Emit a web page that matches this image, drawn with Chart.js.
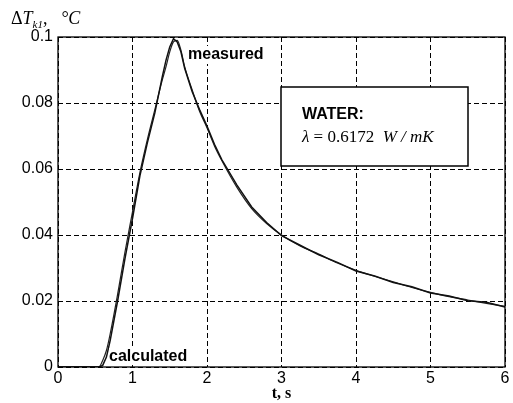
<!DOCTYPE html>
<html><head><meta charset="utf-8">
<script src="https://cdn.jsdelivr.net/npm/chart.js@4"></script>
<style>html,body{margin:0;padding:0;background:#fff}</style>
</head><body>
<canvas id="c" width="513" height="403"></canvas>
<script>
const timeS = [0, 0.55, 0.6, 0.65, 0.7, 0.8, 0.9, 1.0, 1.1, 1.2, 1.3, 1.4, 1.45, 1.5, 1.55, 1.6, 1.65, 1.7, 1.8, 1.9, 2.0, 2.1, 2.2, 2.4, 2.6, 2.8, 3.0, 3.25, 3.5, 3.75, 4.0, 4.25, 4.5, 4.75, 5.0, 5.25, 5.5, 5.75, 6.0];
const calculated = [0, 0, 0.002, 0.005, 0.010, 0.022, 0.035, 0.047, 0.059, 0.069, 0.078, 0.087, 0.091, 0.0955, 0.0985, 0.099, 0.096, 0.091, 0.084, 0.0775, 0.0725, 0.067, 0.0625, 0.0545, 0.048, 0.0435, 0.040, 0.0367, 0.0342, 0.0315, 0.0293, 0.0275, 0.0258, 0.0241, 0.0226, 0.0213, 0.0203, 0.0193, 0.0184];
const measured = [0, 0, 0.0005, 0.003, 0.008, 0.020, 0.033, 0.045, 0.058, 0.068, 0.077, 0.088, 0.093, 0.097, 0.0995, 0.0985, 0.0955, 0.0905, 0.0835, 0.078, 0.073, 0.0675, 0.0628, 0.0552, 0.0485, 0.0438, 0.0398, 0.0369, 0.0340, 0.0317, 0.0291, 0.0276, 0.0256, 0.0243, 0.0224, 0.0215, 0.0201, 0.0196, 0.0182];
const seriesNames = ['measured', 'calculated'];
const xTickLabels = ['0', '1', '2', '3', '4', '5', '6'];
const yTickLabels = ['0', '0.02', '0.04', '0.06', '0.08', '0.1'];

const toPts = (vals) => timeS.map((t, i) => ({x: t, y: vals[i]}));

const annot = {
  id: 'annot',
  afterDraw(chart) {
    const ctx = chart.ctx, a = chart.chartArea;
    ctx.save();
    // frame
    ctx.strokeStyle = '#000'; ctx.lineWidth = 1.3; ctx.setLineDash([]);
    ctx.strokeRect(a.left, a.top, a.right - a.left, a.bottom - a.top);
    // series labels
    ctx.font = 'bold 16px "Liberation Sans", Arial, sans-serif';
    ctx.textBaseline = 'middle'; ctx.textAlign = 'left';
    let w = ctx.measureText(seriesNames[0]).width;
    ctx.fillStyle = '#fff'; ctx.fillRect(187, 46, w + 3, 18);
    ctx.fillStyle = '#000'; ctx.fillText(seriesNames[0], 188, 55);
    w = ctx.measureText(seriesNames[1]).width;
    ctx.fillStyle = '#fff'; ctx.fillRect(109, 348, w + 3, 17);
    ctx.fillStyle = '#000'; ctx.fillText(seriesNames[1], 109, 357);
    // info box
    ctx.fillStyle = '#fff'; ctx.fillRect(281, 87, 187, 79);
    ctx.lineWidth = 1.5; ctx.strokeRect(281, 87, 187, 79);
    ctx.fillStyle = '#000';
    ctx.font = 'bold 16px "Liberation Sans", Arial, sans-serif';
    ctx.fillText('WATER:', 302, 115);
    let x = 302; const y2 = 138;
    const seg = (txt, font) => { ctx.font = font; ctx.fillText(txt, x, y2); x += ctx.measureText(txt).width; };
    seg('\u03BB', 'italic 17px "Liberation Serif", serif');
    seg(' = 0.6172  ', '17px "Liberation Serif", serif');
    seg('W / mK', 'italic 17px "Liberation Serif", serif');
    // y title
    ctx.textBaseline = 'alphabetic';
    x = 11; const yb = 24;
    const seg2 = (txt, font, dy) => { ctx.font = font; ctx.fillText(txt, x, yb + (dy || 0)); x += ctx.measureText(txt).width; };
    seg2('\u0394', '18px "Liberation Serif", serif');
    seg2('T', 'italic 18px "Liberation Serif", serif');
    seg2('k1', 'italic 11px "Liberation Serif", serif', 4);
    seg2(',   ', '18px "Liberation Serif", serif');
    seg2('\u00B0C', 'italic 18px "Liberation Serif", serif');
    // x title
    ctx.font = 'bold 16px "Liberation Serif", serif';
    ctx.textAlign = 'center'; ctx.textBaseline = 'middle';
    ctx.fillText('t, s', (a.left + a.right) / 2, 394);
    ctx.restore();
  }
};

new Chart(document.getElementById('c'), {
  type: 'line',
  data: {
    datasets: [
      {label: seriesNames[0], data: toPts(measured), borderColor: '#111', borderWidth: 1.5, pointRadius: 0, tension: 0},
      {label: seriesNames[1], data: toPts(calculated), borderColor: '#222', borderWidth: 1.2, pointRadius: 0, cubicInterpolationMode: 'monotone'}
    ]
  },
  options: {
    responsive: false, animation: false,
    layout: {padding: {top: 37, right: 8, left: 0, bottom: 0}},
    plugins: {legend: {display: false}, tooltip: {enabled: false}},
    scales: {
      x: {
        type: 'linear', min: 0, max: 6,
        afterFit(s) { s.height = 36; },
        afterBuildTicks(s) { s.ticks = xTickLabels.map(v => ({value: parseFloat(v)})); },
        ticks: {color: '#000', padding: 2, font: {family: '"Liberation Sans", Arial, sans-serif', size: 16},
          callback: (v, i) => xTickLabels[i]},
        grid: {color: '#000', lineWidth: 1, drawTicks: false},
        border: {display: false, dash: [5, 3]}
      },
      y: {
        type: 'linear', min: 0, max: 0.1,
        afterFit(s) { s.width = 58; },
        afterBuildTicks(s) { s.ticks = yTickLabels.map(v => ({value: parseFloat(v)})); },
        ticks: {color: '#000', padding: 5, font: {family: '"Liberation Sans", Arial, sans-serif', size: 16},
          callback: (v, i) => yTickLabels[i]},
        grid: {color: '#000', lineWidth: 1, drawTicks: false},
        border: {display: false, dash: [5, 3]}
      }
    }
  },
  plugins: [annot]
});
</script>
</body></html>
